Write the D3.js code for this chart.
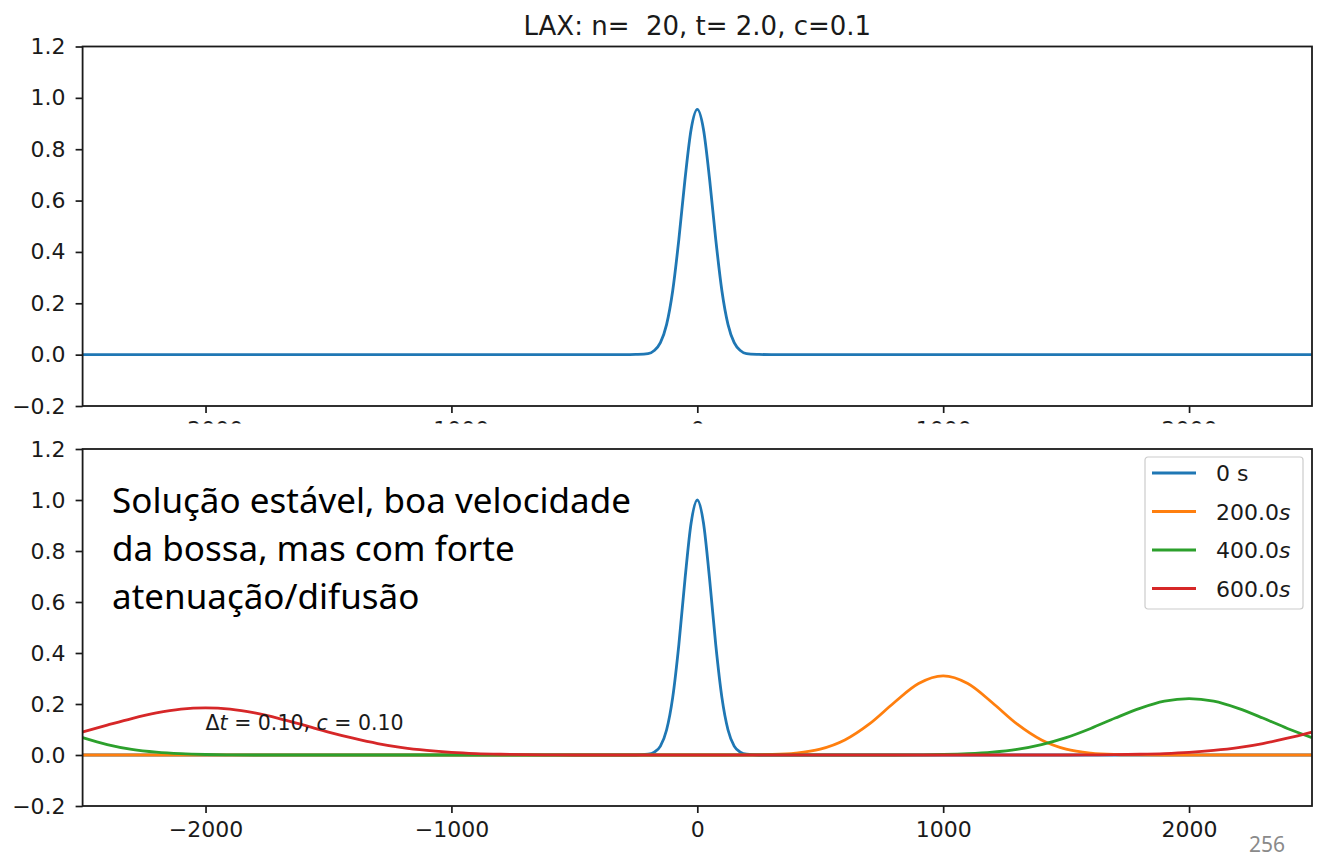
<!DOCTYPE html>
<html>
<head>
<meta charset="utf-8">
<script src="https://d3js.org/d3.v7.min.js"></script>
<style>
body { margin:0; background:#fff; }
svg { display:block; }
.tick text { font-family:"DejaVu Sans"; font-size:22px; fill:#1a1a1a; }
</style>
</head>
<body>
<div id="divForChart"></div>
<script>
// tick labels
var xTicks = [-2000, -1000, 0, 1000, 2000];
var yTicks = [-0.2, 0.0, 0.2, 0.4, 0.6, 0.8, 1.0, 1.2];

// top panel: LAX after 20 steps
var topX = [-2500, -300, -250, -200, -175, -150, -125, -100, -75, -50, -25, 0, 25, 50, 75, 100, 125, 150, 175, 200, 250, 300, 2500];
var topY = [0, 0, 0.001, 0.004, 0.016, 0.047, 0.117, 0.249, 0.449, 0.683, 0.878, 0.955, 0.878, 0.683, 0.449, 0.249, 0.117, 0.047, 0.016, 0.004, 0.001, 0, 0];

// bottom panel series
var seriesNames = ["0 s", "200.0", "400.0", "600.0"];
var seriesColors = ["#1f77b4", "#ff7f0e", "#2ca02c", "#d62728"];

var s0x = [-2500, -300, -250, -200, -175, -150, -125, -100, -75, -50, -25, 0, 25, 50, 75, 100, 125, 150, 175, 200, 250, 300, 2500];
var s0y = [0, 0, 0, 0.003, 0.011, 0.035, 0.098, 0.226, 0.433, 0.69, 0.911, 1.0, 0.911, 0.69, 0.433, 0.226, 0.098, 0.035, 0.011, 0.003, 0, 0, 0];

var s1x = [-2500, 100, 200, 300, 400, 500, 600, 700, 800, 900, 1000, 1100, 1200, 1300, 1400, 1500, 1600, 1700, 1800, 1900, 2500];
var s1y = [0, 0, 0.0004, 0.002, 0.0075, 0.023, 0.059, 0.122, 0.205, 0.28, 0.31, 0.28, 0.205, 0.122, 0.059, 0.023, 0.0075, 0.002, 0.0004, 0, 0];

var s2x = [-2500, -2400, -2300, -2200, -2100, -2000, -1900, -1800, 800, 900, 1000, 1100, 1200, 1300, 1400, 1500, 1600, 1700, 1800, 1900, 2000, 2100, 2200, 2300, 2400, 2500];
var s2y = [0.068, 0.041, 0.022, 0.011, 0.005, 0.002, 0.0007, 0, 0, 0.0007, 0.002, 0.005, 0.011, 0.022, 0.041, 0.068, 0.104, 0.145, 0.183, 0.211, 0.221, 0.211, 0.183, 0.145, 0.104, 0.068];

var s3x = [-2500, -2400, -2300, -2200, -2100, -2000, -1900, -1800, -1700, -1600, -1500, -1400, -1300, -1200, -1100, -1000, -900, -800, -700, -600, -500, 1500, 1600, 1700, 1800, 1900, 2000, 2100, 2200, 2300, 2400, 2500];
var s3y = [0.09, 0.117, 0.143, 0.165, 0.18, 0.185, 0.18, 0.165, 0.143, 0.117, 0.09, 0.066, 0.045, 0.029, 0.018, 0.0104, 0.0057, 0.003, 0.0014, 0.0006, 0, 0, 0.0006, 0.0014, 0.003, 0.0057, 0.0104, 0.018, 0.029, 0.045, 0.066, 0.09];

var W = 1317, H = 859;
var svg = d3.select("#divForChart").append("svg").attr("width", W).attr("height", H);

var x = d3.scaleLinear().domain([-2500, 2500]).range([82.6, 1312]);

function makeAxes(top, bottom, coverTop)
{
	var y = d3.scaleLinear().domain([-0.2, 1.2]).range([bottom, top]);
	var g = svg.append("g");
	g.append("rect").attr("x", 0).attr("y", coverTop).attr("width", W).attr("height", H - coverTop).attr("fill", "#fff");
	g.append("g").attr("transform", "translate(0," + bottom + ")")
		.call(d3.axisBottom(x).tickValues(xTicks).tickSize(7).tickPadding(8).tickFormat(function(d){ return d3.format("d")(d).replace("-", "\u2212"); }));
	g.append("g").attr("transform", "translate(" + x.range()[0] + ",0)")
		.call(d3.axisLeft(y).tickValues(yTicks).tickSize(7).tickPadding(10).tickFormat(function(d){ return d3.format(".1f")(d).replace("-", "\u2212"); }));
	g.selectAll(".domain").remove();
	g.selectAll(".tick line").attr("stroke", "#1a1a1a").attr("stroke-width", 1.7);
	return {g: g, y: y, top: top, bottom: bottom};
}

function frame(ax)
{
	ax.g.append("rect").attr("x", x.range()[0]).attr("y", ax.top)
		.attr("width", x.range()[1] - x.range()[0]).attr("height", ax.bottom - ax.top)
		.attr("fill", "none").attr("stroke", "#1a1a1a").attr("stroke-width", 1.8);
}

function drawLine(ax, xs, ys, color)
{
	var pts = xs.map(function(d, i){ return [d, ys[i]]; });
	var line = d3.line().x(function(d){ return x(d[0]); }).y(function(d){ return ax.y(d[1]); }).curve(d3.curveMonotoneX);
	ax.g.append("path").datum(pts).attr("d", line)
		.attr("fill", "none").attr("stroke", color).attr("stroke-width", 2.8).attr("stroke-linejoin", "round");
}

// top panel
var axTop = makeAxes(46.5, 406, 0);
drawLine(axTop, topX, topY, seriesColors[0]);
frame(axTop);
svg.append("text").attr("x", (x.range()[0] + x.range()[1]) / 2).attr("y", 35)
	.attr("text-anchor", "middle").attr("font-family", "DejaVu Sans").attr("font-size", 26).attr("fill", "#1a1a1a")
	.attr("xml:space", "preserve").text("LAX: n=  20, t= 2.0, c=0.1");

// bottom panel (its white area hides the top x labels, like the pasted image)
var axBot = makeAxes(449, 806, 423.5);
drawLine(axBot, s0x, s0y, seriesColors[0]);
drawLine(axBot, s1x, s1y, seriesColors[1]);
drawLine(axBot, s2x, s2y, seriesColors[2]);
drawLine(axBot, s3x, s3y, seriesColors[3]);
frame(axBot);

// annotation dt, c
var ann = axBot.g.append("text").attr("x", x(-2000)).attr("y", axBot.y(0.1))
	.attr("font-family", "DejaVu Sans").attr("font-size", 20.5).attr("fill", "#1a1a1a");
ann.append("tspan").text("\u0394");
ann.append("tspan").attr("font-style", "italic").text("t");
ann.append("tspan").text(" = 0.10, ");
ann.append("tspan").attr("font-style", "italic").text("c");
ann.append("tspan").text(" = 0.10");

// legend
var leg = axBot.g.append("g").attr("transform", "translate(1145,457)");
leg.append("rect").attr("width", 158).attr("height", 152).attr("rx", 3)
	.attr("fill", "#fff").attr("fill-opacity", 0.8).attr("stroke", "#ccc").attr("stroke-width", 1.2);
seriesNames.forEach(function(name, i)
{
	var yy = 16 + i * 38.5;
	leg.append("line").attr("x1", 7).attr("x2", 51).attr("y1", yy).attr("y2", yy)
		.attr("stroke", seriesColors[i]).attr("stroke-width", 2.8);
	var t = leg.append("text").attr("x", 71).attr("y", yy + 8)
		.attr("font-family", "DejaVu Sans").attr("font-size", 22).attr("fill", "#1a1a1a");
	if (i == 0)
		t.text(name);
	else
	{
		t.append("tspan").text(name);
		t.append("tspan").attr("font-style", "italic").text("s");
	}
});

// slide comment
var note = ["Solução estável, boa velocidade", "da bossa, mas com forte", "atenuação/difusão"];
svg.append("g").selectAll("text").data(note).enter().append("text")
	.attr("x", 112).attr("y", function(d, i){ return 513 + i * 48; })
	.attr("font-family", "Noto Sans").attr("font-size", 35).attr("fill", "#000")
	.text(function(d){ return d; });

// page number
svg.append("text").attr("x", 1285).attr("y", 852).attr("text-anchor", "end")
	.attr("font-family", "Noto Sans").attr("font-size", 21).attr("fill", "#8a8a8a").text("256");
</script>
</body>
</html>
